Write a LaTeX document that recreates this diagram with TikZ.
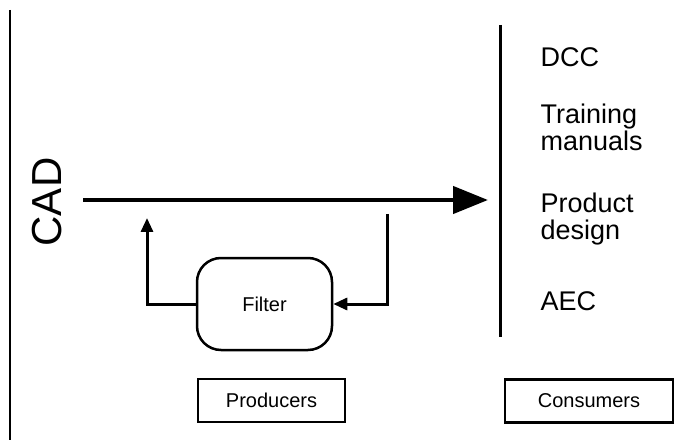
\documentclass[tikz,border=0pt]{standalone}
\usepackage{fontspec}
\setmainfont{Liberation Sans}
\usetikzlibrary{arrows.meta, positioning}
\tikzset{
  >=stealth,
  line cap=round,
  line join=round,
  filterbox/.style={draw, line width=2.5pt, rounded corners=24pt, minimum width=135pt, minimum height=92pt, font=\fontsize{20}{22}\selectfont},
  rolebox/.style={draw, line width=2.5pt, minimum height=43pt, font=\fontsize{20}{22}\selectfont},
  mainarrow/.style={-{Triangle[length=35pt, width=27pt]}, line width=4.5pt},
  feedarrow/.style={-{Triangle[length=14pt, width=12pt]}, line width=3pt},
  consumer/.style={anchor=base west, align=left, font=\fontsize{27}{27}\selectfont}
}
\begin{document}
\begin{tikzpicture}[x=1pt, y=-1pt]
  \useasboundingbox (0,0) rectangle (690,446);
  \draw[line width=1.5pt] (10,10) -- (10,440);
  \node[rotate=90, font=\fontsize{42}{42}\selectfont] (cad) at (47,202) {CAD};
  \coordinate (start) at (83,200);
  \coordinate (end) at (488,200);
  \coordinate (bartop) at (500,25);
  \coordinate (barbottom) at (500,337);
  \draw[line width=3pt] (bartop) -- (barbottom);
  \draw[mainarrow] (start) -- (end);
  \node[filterbox] (filter) at (264.5,304) {Filter};
  \coordinate (tap) at (387,214);
  \coordinate (back) at (147,218);
  \draw[feedarrow] (filter.west) -| (back);
  \draw[feedarrow] (tap) |- (filter.east);
  \node[rolebox, minimum width=147pt] (producers) at (271.5,400.5) {Producers};
  \node[rolebox, minimum width=168pt] (consumers) at (589,401) {Consumers};
  \node[consumer] (dcc) at (537,67) {DCC};
  \node[consumer] (training) at (537,151) {Training\\manuals};
  \node[consumer] (product) at (537,240) {Product\\design};
  \node[consumer] (aec) at (537,310) {AEC};
\end{tikzpicture}
\end{document}
